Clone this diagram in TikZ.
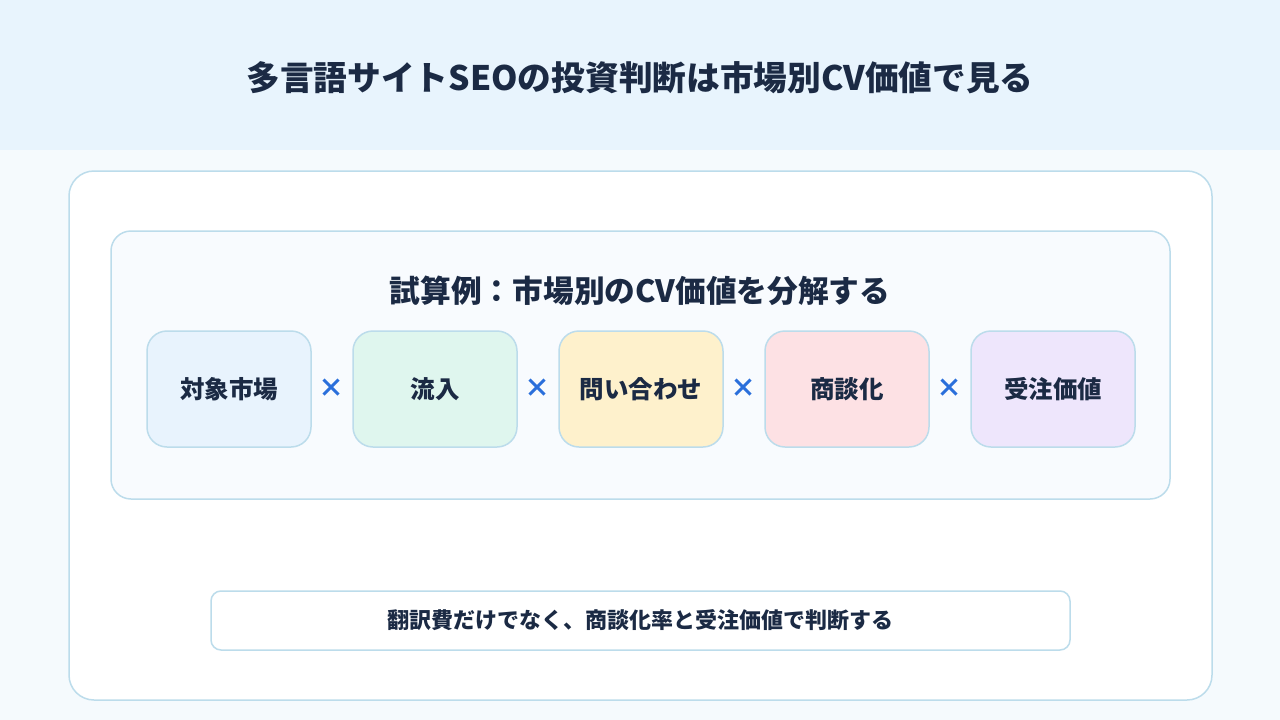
\documentclass[tikz,border=0pt]{standalone}
\usepackage{fontspec}
\setmainfont{Noto Sans CJK JP}
\definecolor{hdr}{HTML}{E8F4FD}
\definecolor{pagebg}{HTML}{F5FAFD}
\definecolor{edge}{HTML}{BCDCEB}
\definecolor{panel}{HTML}{F8FBFE}
\definecolor{ink}{HTML}{1B2A44}
\definecolor{xblue}{HTML}{2A6FDB}
\definecolor{cblue}{HTML}{E8F3FD}
\definecolor{cgreen}{HTML}{DFF6EE}
\definecolor{cyellow}{HTML}{FEF1CC}
\definecolor{cpink}{HTML}{FDE1E4}
\definecolor{cviolet}{HTML}{EEE6FC}
\tikzset{
  factor/.style={draw=edge, line width=1.5pt, rounded corners=20pt, minimum width=164pt, minimum height=116pt, text=ink, font=\fontsize{24.5}{28}\selectfont\bfseries, inner sep=0pt},
  times/.style={text=xblue, font=\fontsize{26}{28}\selectfont\bfseries, inner sep=0pt}
}
\begin{document}
\begin{tikzpicture}[x=1pt,y=-1pt]
\useasboundingbox (0,0) rectangle (1280,720);
\fill[pagebg] (0,0) rectangle (1280,720);
\fill[hdr] (0,0) rectangle (1280,150);
\node[text=ink, font=\fontsize{33.7}{38}\selectfont\bfseries] (title) at (640,78) {多言語サイトSEOの投資判断は市場別CV価値で見る};
\draw[edge, fill=white, line width=1.5pt, rounded corners=25pt] (69,171) rectangle (1212,700);
\draw[edge, fill=panel, line width=1.5pt, rounded corners=20pt] (111,231) rectangle (1170,499);
\node[text=ink, font=\fontsize{30.7}{34}\selectfont\bfseries] (sub) at (640,291) {試算例：市場別のCV価値を分解する};
\node[factor, fill=cblue] (f1) at (229,389) {対象市場};
\node[factor, fill=cgreen] (f2) at (435,389) {流入};
\node[factor, fill=cyellow] (f3) at (641,389) {問い合わせ};
\node[factor, fill=cpink] (f4) at (847,389) {商談化};
\node[factor, fill=cviolet] (f5) at (1053,389) {受注価値};
\node[times] (x1) at (331,388) {×};
\node[times] (x2) at (537,388) {×};
\node[times] (x3) at (743,388) {×};
\node[times] (x4) at (949,388) {×};
\node[draw=edge, fill=white, line width=1.5pt, rounded corners=10pt, minimum width=859pt, minimum height=59pt, text=ink, font=\fontsize{22}{25}\selectfont\bfseries] (note) at (640.5,620.5) {翻訳費だけでなく、商談化率と受注価値で判断する};
\end{tikzpicture}
\end{document}
